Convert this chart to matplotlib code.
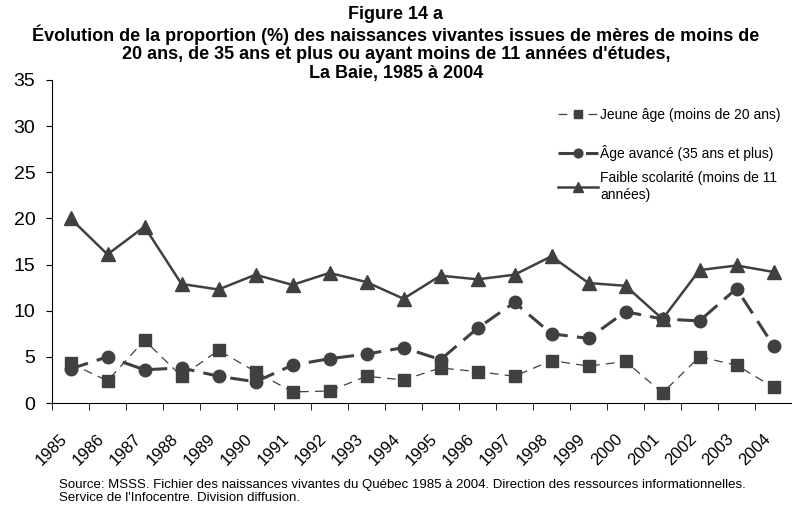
import matplotlib
matplotlib.use("Agg")
import matplotlib.pyplot as plt
import numpy as np

plt.rcParams['font.family'] = ['Liberation Sans', 'DejaVu Sans']

years = [str(y) for y in range(1985, 2005)]
jeune = [4.3, 2.4, 6.8, 2.9, 5.7, 3.4, 1.2, 1.3, 2.9, 2.5,
         3.8, 3.4, 2.9, 4.6, 4.0, 4.5, 1.1, 5.0, 4.1, 1.7]
avance = [3.7, 5.0, 3.6, 3.8, 2.9, 2.3, 4.1, 4.8, 5.3, 6.0,
          4.7, 8.1, 10.9, 7.5, 7.0, 9.9, 9.1, 8.9, 12.4, 6.2]
faible = [20.0, 16.1, 19.1, 12.9, 12.3, 13.9, 12.8, 14.1, 13.1, 11.3,
          13.8, 13.4, 13.9, 15.9, 13.0, 12.7, 9.1, 14.4, 14.9, 14.2]

col = '#404040'
W, H = 792, 509
fig = plt.figure(figsize=(W / 100, H / 100), dpi=100)
# axes box in pixels: x 52..792, y 80..403
ax = fig.add_axes([52 / W, 1 - 403 / H, 740 / W, 323 / H])

x = np.arange(len(years))
l1, = ax.plot(x, jeune, color=col, lw=0.9, ls=(0, (7, 5)), marker='s', ms=9,
              label='Jeune âge (moins de 20 ans)')
l2, = ax.plot(x, avance, color=col, lw=2.2, ls=(0, (6, 3)), marker='o', ms=9,
              label='Âge avancé (35 ans et plus)')
l3, = ax.plot(x, faible, color=col, lw=1.8, ls='-', marker='^', ms=9.5,
              label='Faible scolarité (moins de 11\nannées)')

ax.set_xlim(-0.5, len(years) - 0.5)
ax.set_ylim(0, 35)
ax.set_yticks(range(0, 36, 5))
ax.tick_params(axis='y', labelsize=14, length=4, direction='out', pad=8)
ax.set_xticks(x)
ax.set_xticklabels(years, rotation=45, ha='right', va='top', fontsize=12)
ax.set_xticks(np.arange(-0.5, len(years), 1), minor=True)
ax.tick_params(axis='x', which='major', length=0, pad=20)
ax.tick_params(axis='x', which='minor', length=5, direction='out')
for s in ['top', 'right']:
    ax.spines[s].set_visible(False)

leg_kw = dict(loc='upper left', bbox_transform=fig.transFigure, frameon=False,
              borderpad=0, borderaxespad=0, fontsize=10, handlelength=2.9,
              markerscale=0.7, handletextpad=0.15)
leg1 = ax.legend(handles=[l1], bbox_to_anchor=(558 / W, 1 - 108 / H), **leg_kw)
ax.add_artist(leg1)
ax.legend(handles=[l2, l3], bbox_to_anchor=(558 / W, 1 - 145 / H),
          labelspacing=0.75, **leg_kw)

fig.text(0.5, 1 - 6 / H, "Figure 14 a\nÉvolution de la proportion (%) des naissances vivantes issues de mères de moins de\n"
         "20 ans, de 35 ans et plus ou ayant moins de 11 années d'études,\nLa Baie, 1985 à 2004",
         ha='center', va='top', fontsize=13, fontweight='bold', linespacing=1.1)

fig.text(59 / W, 1 - 479 / H, "Source: MSSS. Fichier des naissances vivantes du Québec 1985 à 2004. Direction des ressources informationnelles.\n"
         "Service de l'Infocentre. Division diffusion.",
         ha='left', va='top', fontsize=9.5, linespacing=1.1)

fig.savefig('out.png', dpi=100)
